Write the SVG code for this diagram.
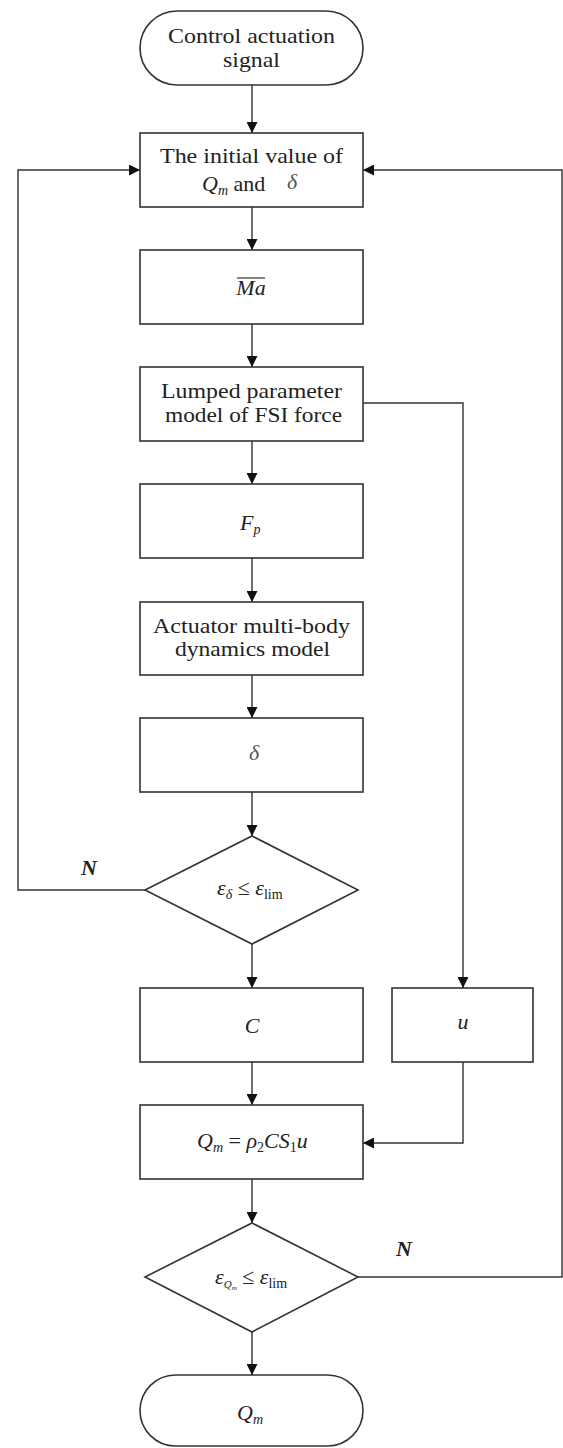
<svg xmlns="http://www.w3.org/2000/svg" width="563" height="1448" viewBox="0 0 563 1448">
<style>
  .n { fill: #fff; stroke: #333; stroke-width: 1.6; }
  .c { fill: none; stroke: #333; stroke-width: 1.4; }
  text { font-family: "Liberation Serif", "Times New Roman", serif; font-size: 22px; fill: #222; }
  .m { text-anchor: middle; }
  .i { font-style: italic; }
  .s { font-size: 14px; }
  .g { fill: #555; }
</style>
<defs>
  <marker id="ah" markerWidth="11" markerHeight="11" refX="11" refY="5.5" orient="auto" markerUnits="userSpaceOnUse">
    <path d="M0,0 L11,5.5 L0,11 z" fill="#111"/>
  </marker>
</defs>
<rect width="563" height="1448" fill="#fff"/>
<g id="connectors">
  <line class="c" x1="252" y1="85" x2="252" y2="133" marker-end="url(#ah)"/>
  <line class="c" x1="252" y1="207" x2="252" y2="250" marker-end="url(#ah)"/>
  <line class="c" x1="252" y1="324" x2="252" y2="367" marker-end="url(#ah)"/>
  <line class="c" x1="252" y1="441" x2="252" y2="484" marker-end="url(#ah)"/>
  <line class="c" x1="252" y1="558" x2="252" y2="602" marker-end="url(#ah)"/>
  <line class="c" x1="252" y1="675" x2="252" y2="718" marker-end="url(#ah)"/>
  <line class="c" x1="252" y1="792" x2="252" y2="836" marker-end="url(#ah)"/>
  <line class="c" x1="252" y1="944" x2="252" y2="988" marker-end="url(#ah)"/>
  <line class="c" x1="252" y1="1062" x2="252" y2="1105" marker-end="url(#ah)"/>
  <line class="c" x1="252" y1="1179" x2="252" y2="1223" marker-end="url(#ah)"/>
  <line class="c" x1="252" y1="1332" x2="252" y2="1375" marker-end="url(#ah)"/>
  <polyline class="c" points="145,890 18,890 18,170 140,170" marker-end="url(#ah)"/>
  <polyline class="c" points="358,1277 562,1277 562,170 363,170" marker-end="url(#ah)"/>
  <polyline class="c" points="363,403 463,403 463,988" marker-end="url(#ah)"/>
  <polyline class="c" points="463,1062 463,1143 363,1143" marker-end="url(#ah)"/>
  <text class="i m" x="89" y="875" font-weight="bold">N</text>
  <text class="i m" x="404" y="1256" font-weight="bold">N</text>
</g>
<g id="start">
  <rect class="n" x="140" y="11" width="223" height="74" rx="37" ry="37"/>
  <text x="168" y="43" textLength="167" lengthAdjust="spacingAndGlyphs">Control actuation</text>
  <text x="223" y="67" textLength="57" lengthAdjust="spacingAndGlyphs">signal</text>
</g>
<g id="init">
  <rect class="n" x="140" y="133" width="223" height="74"/>
  <text x="160" y="163" textLength="183" lengthAdjust="spacingAndGlyphs">The initial value of</text>
  <text x="202" y="191"><tspan class="i">Q</tspan><tspan class="i s" dy="4">m</tspan><tspan dy="-4"> and </tspan></text>
  <text class="i g" x="287" y="189" font-size="20">δ</text>
</g>
<g id="ma">
  <rect class="n" x="140" y="250" width="223" height="74"/>
  <text class="i m" x="251" y="295">Ma</text>
  <line x1="237" y1="278" x2="265" y2="278" stroke="#333" stroke-width="1.2"/>
</g>
<g id="lumped">
  <rect class="n" x="140" y="367" width="223" height="74"/>
  <text x="161" y="398" textLength="181" lengthAdjust="spacingAndGlyphs">Lumped parameter</text>
  <text x="165" y="422" textLength="177" lengthAdjust="spacingAndGlyphs">model of FSI force</text>
</g>
<g id="fp">
  <rect class="n" x="140" y="484" width="223" height="74"/>
  <text x="240" y="530"><tspan class="i">F</tspan><tspan class="i s" dy="4">p</tspan></text>
</g>
<g id="actuator">
  <rect class="n" x="140" y="602" width="223" height="73"/>
  <text x="153" y="633" textLength="197" lengthAdjust="spacingAndGlyphs">Actuator multi-body</text>
  <text x="175" y="656" textLength="155" lengthAdjust="spacingAndGlyphs">dynamics model</text>
</g>
<g id="delta">
  <rect class="n" x="140" y="718" width="223" height="74"/>
  <text class="i m g" x="254" y="760">δ</text>
</g>
<g id="check1">
  <polygon class="n" points="252,836 358,890 252,944 145,890"/>
  <text x="217" y="895"><tspan class="i">ε</tspan><tspan class="i s" dy="4">δ</tspan><tspan dy="-4"> ≤ </tspan><tspan class="i">ε</tspan><tspan class="s" dy="4">lim</tspan></text>
</g>
<g id="cbox">
  <rect class="n" x="140" y="988" width="223" height="74"/>
  <text class="i m" x="252" y="1033">C</text>
</g>
<g id="ubox">
  <rect class="n" x="392" y="988" width="141" height="74"/>
  <text class="i m" x="463" y="1029">u</text>
</g>
<g id="qm-eq">
  <rect class="n" x="140" y="1105" width="223" height="74"/>
  <text x="197" y="1148"><tspan class="i">Q</tspan><tspan class="i s" dy="4">m</tspan><tspan dy="-4"> = </tspan><tspan class="i">ρ</tspan><tspan class="s" dy="4">2</tspan><tspan class="i" dy="-4">CS</tspan><tspan class="s" dy="4">1</tspan><tspan class="i" dy="-4">u</tspan></text>
</g>
<g id="check2">
  <polygon class="n" points="252,1223 358,1277 252,1332 145,1277"/>
  <text x="215" y="1284"><tspan class="i">ε</tspan><tspan class="i" font-size="11" dy="4">Q</tspan><tspan class="i" font-size="7" dy="2">m</tspan><tspan dy="-6"> ≤ </tspan><tspan class="i">ε</tspan><tspan class="s" dy="4">lim</tspan></text>
</g>
<g id="end">
  <rect class="n" x="140" y="1375" width="223" height="71" rx="35.5" ry="35.5"/>
  <text x="237" y="1420"><tspan class="i">Q</tspan><tspan class="i s" dy="4">m</tspan></text>
</g>
</svg>
